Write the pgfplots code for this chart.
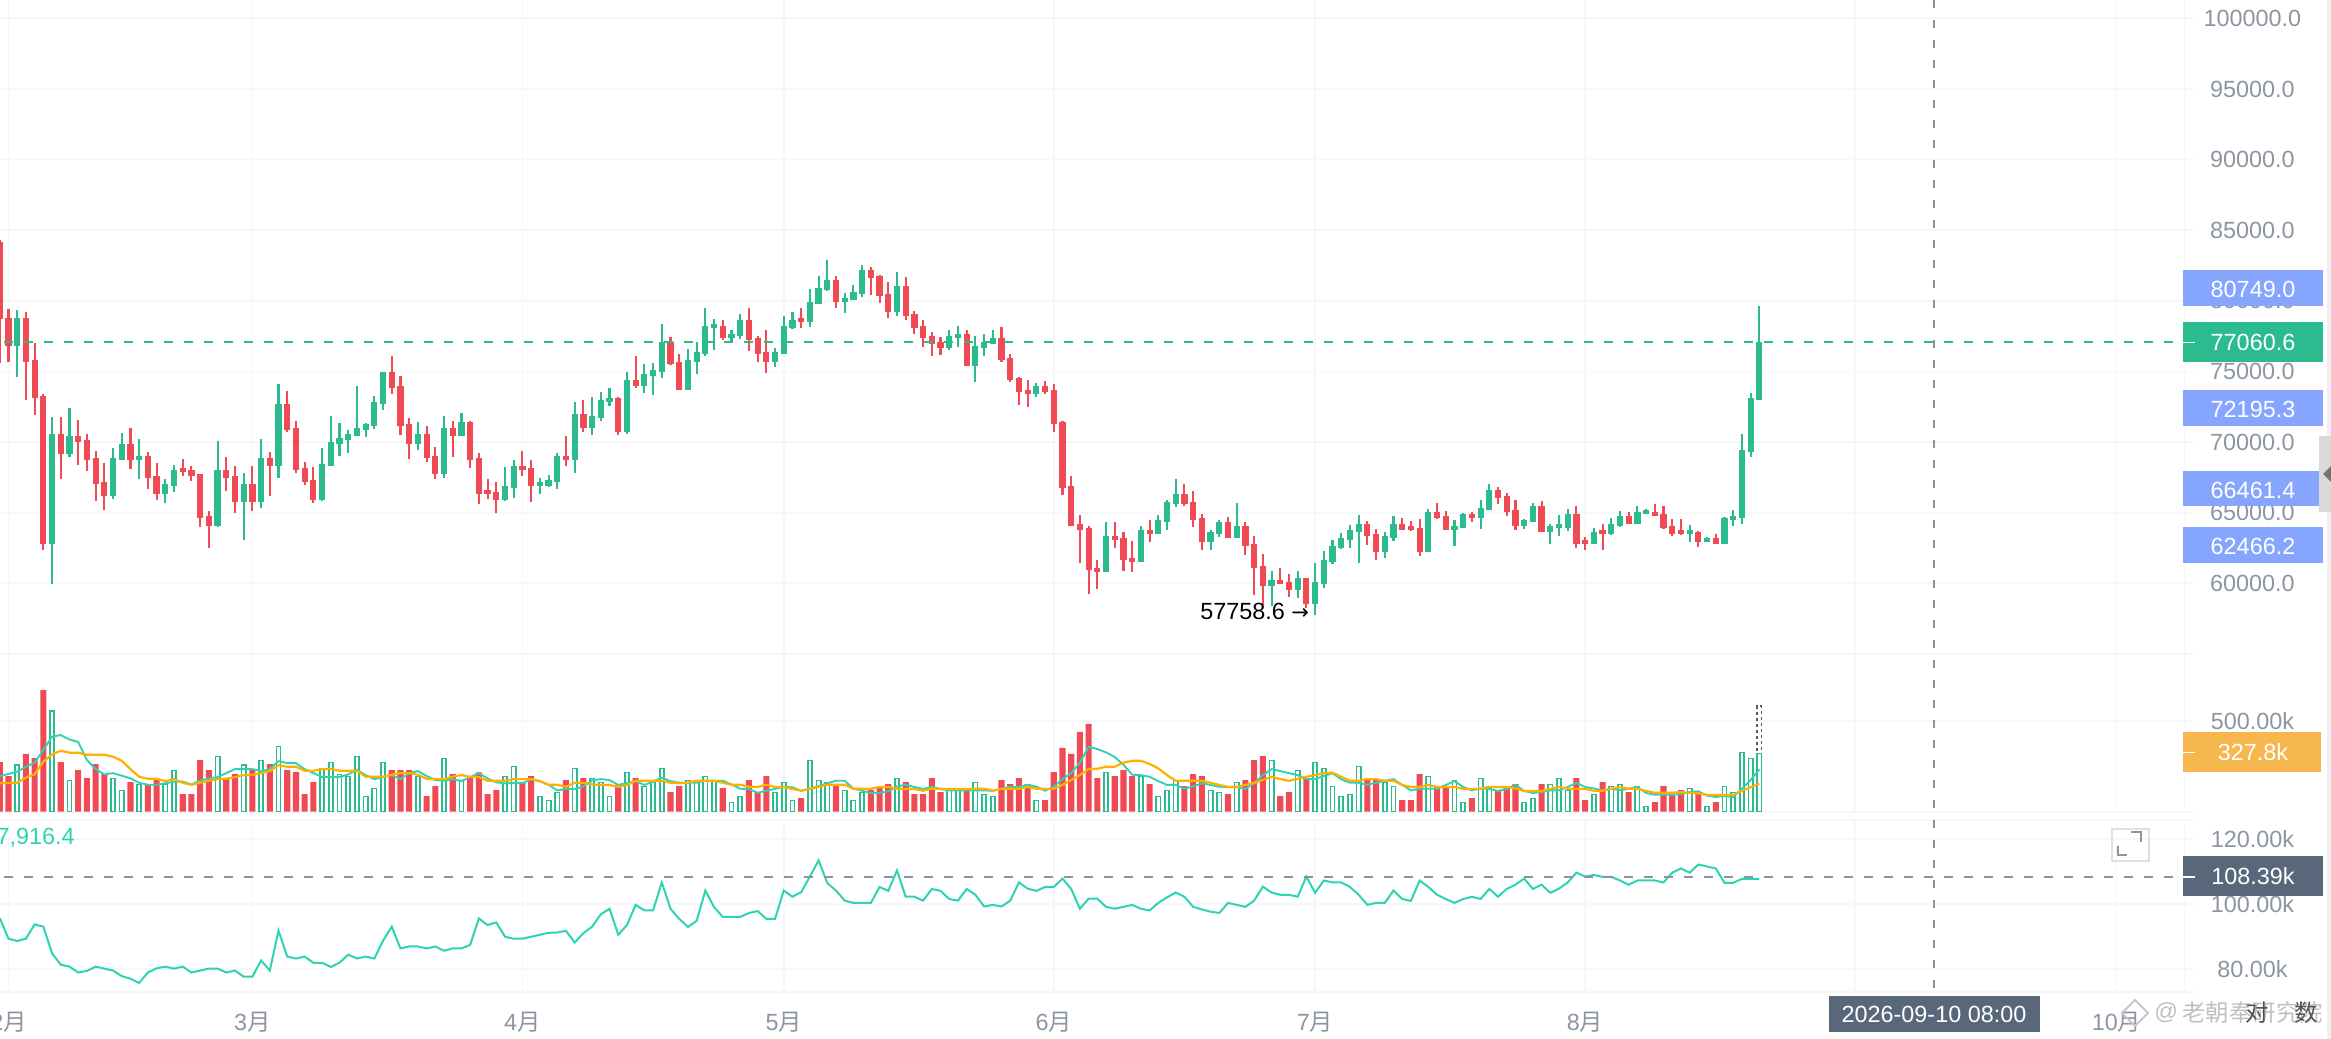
\documentclass[border=0pt]{standalone}
\usepackage{pgfplots}
\usepackage{pgfplotstable}
\usepackage{fontspec}
\pgfplotsset{compat=1.18}
\setmainfont{Liberation Sans}
\newfontfamily\cjk{Noto Sans CJK SC}
\newfontfamily\sym{DejaVu Sans}
\definecolor{cred}{HTML}{F04A55}
\definecolor{cgreen}{HTML}{2BBB8F}
\definecolor{cteal}{HTML}{2ED3B2}
\definecolor{corange}{HTML}{FFB000}
\definecolor{cgrid}{HTML}{F6F7F9}
\definecolor{clabel}{HTML}{8D95A1}
\definecolor{cblue}{HTML}{85A5FF}
\definecolor{cslate}{HTML}{59677A}
\definecolor{corangetag}{HTML}{F6B74E}
\definecolor{cdash}{HTML}{8B93A3}
% d bodylow bodytop low high volume(k)
\pgfplotstableread{
d bl bt l h v
-1 78690 84190 75570 84310 273
0 76801 78784 75692 79444 196
2 75690 78780 72980 79210 317
3 73140 75810 71920 77010 295
4 62780 73260 62360 73400 668
6 69155 70570 67360 71775 273
8 70000 70430 68375 71540 229
9 68730 70146 67975 70595 185
10 67030 68870 65800 69367 262
11 66180 67170 65190 68494 207
14 68730 69860 68117 71020 163
16 67456 69013 66677 69320 147
17 66323 67600 65922 68518 174
20 67880 68164 67574 68800 97
21 67600 68022 67267 68305 97
22 64624 67739 63986 67739 284
23 64057 64765 62523 65119 229
25 67456 68022 66559 68942 183
26 65756 67597 64978 68305 207
28 65756 67030 65119 68282 229
30 68305 68872 66180 69320 262
32 70854 72695 70712 73615 229
33 68022 70996 67809 71468 218
34 67172 68164 66960 68612 97
35 65898 67314 65662 68258 163
44 73828 74960 73403 76093 229
45 71137 73969 70524 74701 229
46 69863 71279 68801 71680 229
48 68872 70571 68588 71161 86
49 67739 69013 67385 69650 141
51 70429 70996 68966 71468 207
53 68730 71420 68187 71468 196
54 66323 68872 65591 69226 216
55 66323 66606 65992 67385 97
56 65898 66464 65001 67196 119
59 68022 68305 67621 69367 163
60 66889 68164 65756 68730 196
64 68730 69013 68305 70429 174
66 70996 71987 70712 72954 185
70 70713 73120 70525 73191 147
72 73970 74395 73829 76071 185
76 75528 77085 75457 77439 108
77 73687 75669 73687 76259 141
82 77369 78218 77251 78619 130
85 77227 78643 76448 79493 174
86 76236 77369 75669 77510 108
87 75669 76377 74914 77935 196
91 78501 78785 78077 79493 75
95 79917 81475 79493 81735 147
99 81617 82183 80413 82395 119
100 80342 81758 79847 81829 137
101 79209 80484 78761 81333 152
103 78926 81050 78643 81664 163
104 78077 79068 77652 79280 97
105 77369 78218 76731 78643 97
106 76944 77510 76071 77817 185
107 76660 77085 76165 77439 108
110 75386 77652 75386 77935 123
114 75811 77369 75669 78147 174
115 74395 75953 74254 76236 152
116 73545 74537 72625 74631 185
117 73404 73687 72483 74395 152
119 73545 73970 73404 74324 64
120 71280 73687 70713 74135 218
121 66749 71421 66253 71492 350
122 64058 66890 64058 67598 317
123 63775 64200 61462 64837 438
124 60943 63917 59220 64058 482
125 60801 61085 59574 61651 185
127 63067 63351 62501 64318 196
128 61651 63209 60872 63610 229
129 61509 61793 60825 62996 196
131 63492 63775 62902 64483 152
135 65614 66322 65449 67053 141
136 64481 65755 63985 66534 207
137 62923 64623 62333 64906 196
140 63207 64339 63207 64693 97
142 62640 64056 61979 64363 174
143 61083 62782 59171 63325 284
144 59808 61224 58463 62050 306
146 59950 60233 59950 61059 86
147 59525 60091 59006 60658 108
149 58534 60375 58274 60375 185
156 63348 64198 62735 64410 183
157 62215 63490 61626 63844 174
160 63773 64198 63773 64623 64
161 63773 64056 63702 64410 64
162 62215 63915 61932 64552 207
164 64623 65047 64552 65685 141
165 63773 64764 63773 65118 141
168 64623 64906 64339 65047 75
171 66039 66605 65590 66817 119
172 65047 66180 64741 66393 130
173 64056 65189 63773 65897 152
176 63631 65472 63631 65826 152
180 62782 64906 62499 65496 185
181 62782 63065 62357 63277 64
183 63490 63773 62381 64174 163
186 64198 64764 64198 65047 108
189 64764 65047 64764 65614 53
190 63915 64906 63867 65472 141
191 63490 64056 63325 64552 97
192 63490 63773 63395 64552 119
194 62923 63631 62593 63702 108
196 62782 63207 62782 63490 53
}\downT
\pgfplotstableread{
d bl bt l h v
1 76800 78780 74630 79350 258
5 62780 70570 59950 71800 555
7 69155 70430 68920 72390 172
12 66180 68870 65945 69556 183
13 68730 69860 68730 70640 117
15 68730 69013 67360 70217 150
18 66323 67030 65709 67385 150
19 66890 68022 66488 68376 227
24 64057 68022 63986 70075 304
27 65756 67030 63090 67833 258
29 65756 68872 65355 70193 282
31 68305 72695 67432 74111 359
36 65898 68447 65851 69580 238
37 68305 70004 68305 71845 271
38 69863 70288 69013 71373 205
39 70146 70571 69226 70854 194
40 70429 70996 70429 73969 304
41 70854 71279 70335 71350 84
42 71137 72836 70901 73261 128
43 72695 74960 72294 74960 271
47 69863 70571 69438 71420 194
50 67739 70996 67479 71869 293
52 70429 71420 70429 72081 172
57 65898 66889 65827 68234 194
58 66748 68305 66040 68706 249
61 66889 67172 66323 67456 84
62 66889 67314 66842 67644 62
63 67172 69013 66677 69202 106
65 68730 71987 67809 72836 238
67 70996 71845 70500 73190 183
68 71705 72979 71469 73522 161
69 72837 73120 72531 73852 84
71 70713 74395 70572 74961 216
73 73970 74820 73498 75528 139
74 74678 75103 73333 75575 161
75 74962 77085 74537 78360 238
78 73687 75811 73687 76590 172
79 75669 76377 74820 77085 172
80 76236 78218 76094 79493 194
81 78077 78360 76543 78714 172
83 77369 77652 77156 77935 51
84 77510 78643 77298 79068 84
88 75669 76377 75315 76684 106
89 76236 78218 76236 78926 161
90 78077 78643 78006 79209 62
92 78501 79917 78171 80814 282
93 79776 80909 79776 81782 172
94 80767 81475 80696 82891 161
96 79917 80200 79162 80555 117
97 80059 80625 80059 81097 62
98 80484 82183 80271 82513 106
102 79209 81050 78903 82041 183
108 76660 77510 76519 77911 117
109 77369 77652 76755 78242 117
111 75386 76802 74254 77510 161
112 76660 77085 76094 77652 95
113 76944 77369 76944 77935 84
118 73404 73970 73191 74183 62
126 60801 63351 60801 64365 216
130 61509 63775 61509 64058 194
132 63492 64483 63492 64837 84
133 64341 65757 63775 65899 117
134 65616 66324 65403 67386 172
138 62923 63631 62357 63773 117
139 63490 64339 63254 64481 106
141 63207 64056 63207 65708 161
145 59808 60233 58416 60870 282
148 59525 60375 58959 60870 227
150 58534 60091 57758.6 61437 271
151 59950 61649 59667 62286 238
152 61507 62640 61342 63065 139
153 62499 63207 62428 63561 84
154 63065 63773 62499 64127 95
155 63631 64198 61437 64811 249
158 62215 63348 61791 63631 161
159 63207 64198 63018 64764 139
163 62215 65047 62215 65236 194
166 63773 64056 62617 64481 172
167 63915 64906 63915 64953 51
169 64623 65331 63844 65897 183
170 65189 66605 65189 67030 139
174 64056 64481 63844 64552 51
175 64339 65472 64339 65661 73
177 63631 64056 62782 64198 150
178 63915 64198 63348 64835 183
179 63915 64906 63702 65260 117
182 62782 63631 62782 63915 95
184 63490 64198 63419 64623 139
185 64056 64764 63985 65118 150
187 64198 65047 64198 65472 139
188 64906 65189 64906 65260 29
193 63490 63773 62900 64103 128
195 62923 63207 62923 63277 29
197 62782 64623 62782 64693 139
198 64481 64764 64080 65189 106
199 64623 69437 64222 70570 326
200 69295 73119 68965 73473 293
201 72977 77060.6 72977 79609 320
}\upT
% d short-MA long-MA(volume, k) and lower-pane line (k)
\pgfplotstableread{
d mas mal oi
-1 196 156 95.7
0 207 158 89.4
1 220 159 88.7
2 247 187 89.4
3 269 205 93.8
4 339 275 93.1
5 412 315 84.9
6 421 335 81.4
7 397 324 80.8
8 383 324 79.0
9 284 313 79.5
10 234 313 80.8
11 205 313 80.2
12 212 302 79.6
13 198 280 77.9
14 183 234 77.1
15 159 192 75.8
16 148 181 79.0
17 148 181 80.3
18 156 168 80.8
19 165 179 80.2
20 165 159 80.8
21 150 148 79.0
22 170 159 79.6
23 183 170 80.2
24 190 179 80.2
25 212 181 79.0
26 234 190 79.6
27 234 201 77.7
28 234 203 77.7
29 223 212 82.7
30 234 223 79.6
31 278 256 91.9
32 267 247 83.9
33 267 247 83.3
34 234 225 83.9
35 212 225 82.0
36 190 234 82.0
37 190 234 80.7
38 190 225 82.0
39 205 225 84.5
40 231 225 83.3
41 201 192 83.9
42 179 192 83.3
43 190 192 88.8
44 201 203 93.1
45 179 212 86.4
46 212 212 87.0
47 223 203 87.0
48 196 181 86.4
49 174 179 87.0
50 170 179 85.7
51 179 192 86.4
52 168 201 86.4
53 190 192 87.5
54 212 190 95.6
55 183 170 93.6
56 161 170 94.4
57 156 170 90.0
58 158 179 89.4
59 156 179 89.4
60 179 179 90.0
61 168 168 90.6
62 147 148 91.2
63 117 148 91.3
64 125 137 91.8
65 125 159 88.2
66 139 159 91.1
67 172 150 93.1
68 179 147 96.9
69 174 147 98.6
70 147 136 90.6
71 158 147 93.6
72 168 170 99.8
73 147 170 98.1
74 165 170 98.1
75 187 170 106.7
76 168 159 98.6
77 159 158 95.5
78 159 159 93.0
79 159 170 94.9
80 170 170 104.2
81 170 170 99.1
82 170 159 96.1
83 150 148 96.1
84 126 148 96.1
85 125 137 97.3
86 104 136 97.9
87 115 148 95.5
88 125 136 95.5
89 137 136 104.2
90 134 125 102.3
91 115 115 103.7
92 126 126 108.5
93 141 137 113.5
94 156 148 106.5
95 170 148 104.2
96 170 148 101.1
97 126 126 100.4
98 115 126 100.4
99 103 126 100.4
100 103 136 105.3
101 112 136 104.1
102 139 126 110.4
103 147 125 102.3
104 136 125 102.3
105 125 115 101.1
106 136 126 104.7
107 125 125 104.1
108 117 125 101.6
109 117 125 101.1
110 117 125 104.7
111 117 126 102.9
112 117 126 99.3
113 115 115 99.8
114 126 126 99.3
115 136 126 101.1
116 137 126 106.7
117 148 136 104.8
118 137 126 104.1
119 115 125 105.3
120 137 126 105.3
121 179 147 107.9
122 212 174 104.7
123 269 201 98.6
124 357 234 101.7
125 344 236 101.7
126 326 247 99.2
127 300 247 98.6
128 258 269 99.2
129 203 280 99.8
130 201 280 98.6
131 192 262 98.1
132 168 238 100.4
133 147 201 102.1
134 147 170 103.6
135 126 170 102.3
136 139 170 99.2
137 156 170 98.4
138 147 159 97.7
139 137 147 97.3
140 136 136 100.4
141 136 136 99.8
142 125 147 99.2
143 156 159 101.1
144 201 174 105.4
145 234 192 103.6
146 223 179 102.9
147 212 170 102.9
148 201 181 102.3
149 179 192 108.5
150 179 201 103.5
151 196 212 107.3
152 211 214 106.7
153 178 192 106.7
154 159 170 105.3
155 159 170 102.9
156 148 179 99.8
157 159 179 100.4
158 170 170 100.4
159 179 170 104.2
160 147 147 101.6
161 117 136 101.0
162 126 136 107.3
163 126 147 105.3
164 126 136 102.9
165 147 136 101.6
166 168 136 100.4
167 136 126 101.6
168 117 125 102.3
169 128 125 101.6
170 125 136 104.7
171 114 136 102.3
172 125 136 104.7
173 147 128 106.0
174 114 114 107.9
175 103 114 104.7
176 108 114 106.0
177 117 125 103.5
178 117 136 104.8
179 136 126 106.7
180 158 126 109.7
181 136 125 108.5
182 128 115 109.0
183 117 115 108.4
184 125 126 108.4
185 119 136 107.3
186 125 126 106.0
187 136 126 107.3
188 103 115 107.3
189 93 104 107.3
190 93 104 106.7
191 93 104 109.7
192 97 108 111.0
193 108 104 109.7
194 112 101 112.2
195 88 92 111.6
196 81 92 111.0
197 86 92 106.6
198 81 92 106.6
199 126 115 107.8
200 174 134 107.8
201 233 154 107.8
}\indT
\pgfplotsset{pane/.style={
  scale only axis, width=1092.2pt, anchor=south west, clip=true,
  xmin=-0.976, xmax=249.8,
  xtick={0,28,59,89,120,150,181,212,242,249.8},
  grid=major, grid style={draw=cgrid,line width=0.9pt},
  axis line style={draw=none},
  ytick pos=right, xtick pos=bottom,
  ytick style={draw=cgrid,line width=0.9pt}, xtick style={draw=none},
  major tick length=5pt, tick align=outside,
  yticklabel style={anchor=center,xshift=29pt,text=clabel,font=\fontsize{11.7}{14}\selectfont},
  xticklabels={},
}}
\begin{document}
\begin{tikzpicture}
\useasboundingbox (0,0) rectangle (1165.5pt,519.5pt);
% price pane
\begin{axis}[pane, at={(0pt,184.5pt)}, height=335pt, ymin=53854, ymax=101303,
  ytick={55000,60000,65000,70000,75000,80000,85000,90000,95000,100000},
  yticklabels={,60000.0,65000.0,70000.0,75000.0,80000.0,85000.0,90000.0,95000.0,100000.0}]
\addplot[draw=none,forget plot,error bars/.cd,y dir=both,y explicit,error mark=none,
  error bar style={line width=1.05pt,draw=cred}]
  table[x=d,y=bl,y error plus expr=\thisrow{h}-\thisrow{bl},y error minus expr=\thisrow{bl}-\thisrow{l}]{\downT};
\addplot[draw=none,forget plot,error bars/.cd,y dir=plus,y explicit,error mark=none,
  error bar style={line width=3.1pt,draw=cred}]
  table[x=d,y=bl,y error plus expr=\thisrow{bt}-\thisrow{bl},y error minus expr=0]{\downT};
\addplot[draw=none,forget plot,error bars/.cd,y dir=both,y explicit,error mark=none,
  error bar style={line width=1.05pt,draw=cgreen}]
  table[x=d,y=bl,y error plus expr=\thisrow{h}-\thisrow{bl},y error minus expr=\thisrow{bl}-\thisrow{l}]{\upT};
\addplot[draw=none,forget plot,error bars/.cd,y dir=plus,y explicit,error mark=none,
  error bar style={line width=3.1pt,draw=cgreen}]
  table[x=d,y=bl,y error plus expr=\thisrow{bt}-\thisrow{bl},y error minus expr=0]{\upT};
\addplot[cgreen,line width=1pt,dash pattern=on 4.2pt off 5.8pt,forget plot] coordinates {(-0.5,77060.6)(249.8,77060.6)};
\end{axis}
% volume pane
\begin{axis}[pane, at={(0pt,113.65pt)}, height=70.85pt, ymin=0, ymax=778.6,
  ytick={0,500}, yticklabels={,500.00k}]
\addplot[ybar,bar width=2.1pt,bar shift=0pt,draw=black!65,dash pattern=on 1.5pt off 1.5pt,line width=0.9pt,fill=none,forget plot] coordinates {(201,581)};
\addplot[ybar,bar width=3.05pt,bar shift=0pt,fill=cred,draw=none,forget plot] table[x=d,y=v]{\downT};
\addplot[ybar,bar width=2.1pt,bar shift=0pt,fill=white,draw=cgreen,line width=0.85pt,forget plot] table[x=d,y=v]{\upT};
\addplot[cteal,line width=0.95pt,forget plot] table[x=d,y=mas]{\indT};
\addplot[corange,line width=1.1pt,forget plot] table[x=d,y=mal]{\indT};
\end{axis}
% lower pane
\begin{axis}[pane, at={(0pt,23.65pt)}, height=85.85pt, ymin=73.1, ymax=125.9,
  ytick={73.1,80,100,120,125.9}, yticklabels={,80.00k,100.00k,120.00k,},
  xticklabels={2{\cjk 月},3{\cjk 月},4{\cjk 月},5{\cjk 月},6{\cjk 月},7{\cjk 月},8{\cjk 月},9{\cjk 月},10{\cjk 月},},
  xticklabel style={anchor=center,yshift=-10.5pt,text=clabel,font=\fontsize{11.7}{14}\selectfont}]
\addplot[cteal,line width=1pt,forget plot] table[x=d,y=oi]{\indT};
\addplot[cdash,line width=1pt,dash pattern=on 4.2pt off 5.8pt,forget plot] coordinates {(-0.5,108.39)(249.8,108.39)};
\end{axis}
% overlays in pixel units of the reference
\begin{scope}[shift={(0,519.5pt)},x=0.5pt,y=-0.5pt,font=\fontsize{11.7}{14}\selectfont]
\draw[cdash,line width=1pt,dash pattern=on 4pt off 6pt] (1934,0)--(1934,988);
\fill[gray!12] (2327,0) rectangle (2331,1039);
\fill[black!15] (2319,436) rectangle (2331,512);
\fill[black!55] (2323,474)--(2331,466)--(2331,482)--cycle;
\newcommand\pricetag[6]{\fill[#1] (2183,#2) rectangle (#3,#4);\node[text=white,inner sep=0pt] at (2253,{(#2+#4)/2+#6}) {#5};}
\pricetag{cblue}{270}{2323}{306}{80749.0}{1.5}
\pricetag{cgreen}{322}{2323}{362}{77060.6}{0}
\pricetag{cblue}{390}{2323}{426}{72195.3}{1.5}
\pricetag{cblue}{471}{2319}{506}{66461.4}{1.5}
\pricetag{cblue}{527}{2323}{563}{62466.2}{1.5}
\pricetag{corangetag}{732}{2321}{772}{327.8k}{0}
\pricetag{cslate}{856}{2323}{896}{108.39k}{0}
\draw[white,line width=0.8pt] (2183,342.5)--(2195,342.5) (2183,752.5)--(2195,752.5) (2183,877)--(2195,877);
\fill[cslate] (1829,996) rectangle (2040,1032);
\node[text=white,inner sep=0pt] at (1934,1014) {2026-09-10 08:00};
\node[anchor=west,inner sep=0pt,text=black] at (1200,611) {57758.6 {\sym\fontsize{10.5}{12}\selectfont →}};
\node[anchor=east,inner sep=0pt,text=cteal] at (75,838) {7,916.4};
\draw[black!12,line width=1pt] (2112,829) rectangle (2149,861);
\draw[cdash,line width=1pt] (2131,832.5)--(2140.5,832.5)--(2140.5,842) (2117.5,846)--(2117.5,855)--(2127,855);
\draw[black!22,line width=1pt] (2135,1000)--(2148,1013)--(2135,1026)--(2122,1013)--cycle;
\node[anchor=west,inner sep=0pt,text=black!25] at (2154,1013) {@};
\node[anchor=west,inner sep=0pt,text=black!25] at (2182,1013) {\cjk 老朝奉研究院};
\node[inner sep=0pt,text=black!68] at (2257,1013) {\cjk 对};
\node[inner sep=0pt,text=black!68] at (2306,1013) {\cjk 数};
\end{scope}
\end{tikzpicture}
\end{document}
